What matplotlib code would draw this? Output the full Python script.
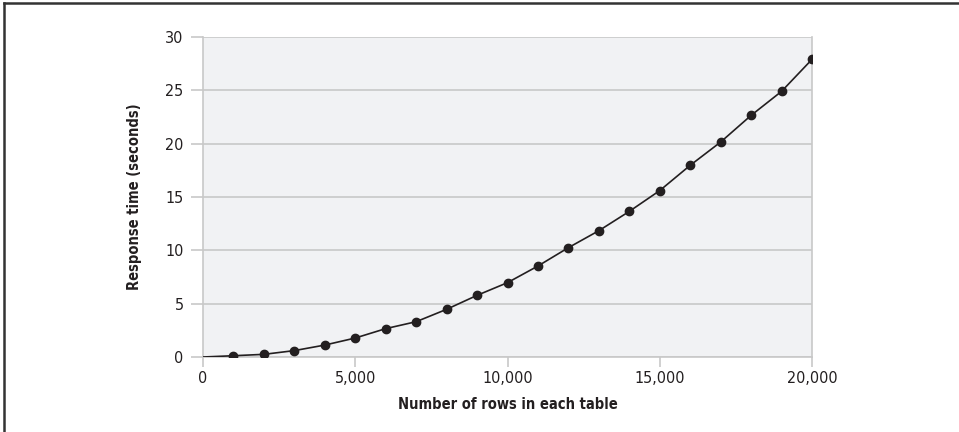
import matplotlib
matplotlib.use("Agg")
import matplotlib.pyplot as plt
from matplotlib.ticker import FuncFormatter
from matplotlib.lines import Line2D

plt.rcParams['font.family'] = ['DejaVu Sans']
plt.rcParams['font.stretch'] = 'condensed'

# Rows per table vs. measured response time
rows = [0, 1000, 2000, 3000, 4000, 5000, 6000, 7000, 8000, 9000, 10000,
        11000, 12000, 13000, 14000, 15000, 16000, 17000, 18000, 19000, 20000]
seconds = [0.0, 0.12, 0.25, 0.6, 1.12, 1.78, 2.66, 3.31, 4.47, 5.78, 6.97,
           8.53, 10.25, 11.84, 13.65, 15.6, 17.97, 20.15, 22.65, 24.9, 27.9]

x_ticks = [0, 5000, 10000, 15000, 20000]
y_ticks = [0, 5, 10, 15, 20, 25, 30]

ink = '#231f20'
rule = '#c8c8c8'

fig = plt.figure(figsize=(9.59, 4.32), dpi=100)
ax = fig.add_axes([0.2117, 0.1736, 0.6350, 0.7408])
ax.set_facecolor('#f1f2f4')

ax.plot(rows, seconds, color=ink, lw=1.2, zorder=3)
ax.plot(rows[1:], seconds[1:], 'o', color=ink, ms=6, zorder=4)

ax.set_xlim(0, 20000)
ax.set_ylim(0, 30)
ax.set_xticks(x_ticks)
ax.set_yticks(y_ticks)
ax.xaxis.set_major_formatter(FuncFormatter(lambda v, p: f"{int(v):,}"))
ax.yaxis.grid(True, color=rule, lw=1.2)
ax.set_axisbelow(True)

for s in ax.spines.values():
    s.set_color(rule)
    s.set_linewidth(1.2)
ax.spines['top'].set_visible(False)

ax.tick_params(axis='both', colors=rule, labelcolor=ink, labelsize=11.5,
               length=9, width=1.2)
ax.tick_params(axis='y', pad=5)
ax.tick_params(axis='x', length=7, pad=3)

ax.set_xlabel('Number of rows in each table', fontsize=10.5, fontweight='bold',
              color=ink, labelpad=8)
ax.set_ylabel('Response time (seconds)', fontsize=10.5, fontweight='bold',
              color=ink, labelpad=17)

# Frame lines along the top and left edge of the figure
fig.add_artist(Line2D([0.004, 1.0], [0.9925, 0.9925], transform=fig.transFigure,
                      color='#333333', lw=1.8))
fig.add_artist(Line2D([0.0045, 0.0045], [0.0, 0.9925], transform=fig.transFigure,
                      color='#333333', lw=1.8))

fig.savefig('out.png', dpi=100)
